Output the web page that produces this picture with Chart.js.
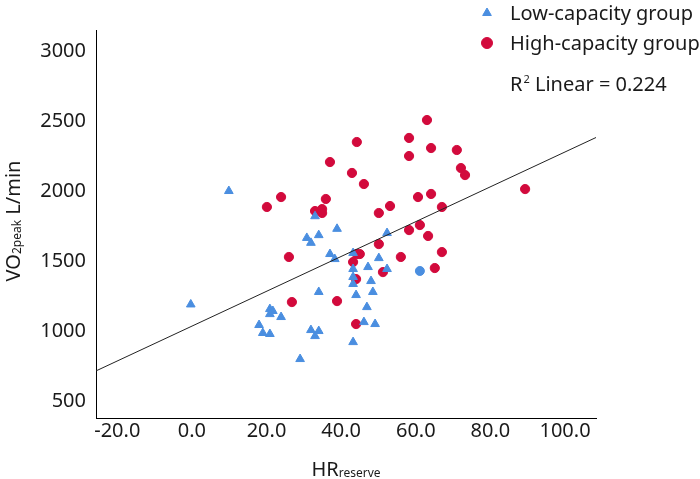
<!DOCTYPE html>
<html><head><meta charset="utf-8">
<script src="https://cdn.jsdelivr.net/npm/chart.js@4/dist/chart.umd.min.js"></script>
<style>html,body{margin:0;padding:0;background:#fff}</style>
</head><body>
<canvas id="c" width="700" height="479"></canvas>
<script>
// Low-capacity group (blue triangles)
const lowX = [-0.3, 9.9, 33.0, 38.9, 34.0, 30.8, 31.9, 37.0, 52.3, 38.3, 43.2, 50.1, 47.2, 43.2, 52.3, 43.2, 48.0, 43.2, 48.5, 44.0, 34.0, 46.9, 20.9, 21.7, 20.9, 23.9, 18.0, 19.0, 20.9, 31.9, 34.0, 33.0, 46.1, 49.1, 43.2, 29.0];
const lowY = [1190, 2000, 1820, 1730, 1685, 1665, 1630, 1550, 1700, 1514, 1557, 1521, 1457, 1443, 1443, 1386, 1357, 1336, 1279, 1257, 1279, 1171, 1157, 1143, 1121, 1100, 1043, 986, 979, 1007, 1000, 964, 1064, 1050, 921, 800];
// Low-capacity point drawn as round marker
const lowRoundX = [61.1];
const lowRoundY = [1429];
// High-capacity group (red circles)
const highX = [20.1, 23.9, 35.9, 33.0, 34.9, 34.9, 26.0, 26.8, 38.9, 44.0, 37.0, 44.2, 58.2, 63.0, 64.1, 71.0, 58.2, 42.9, 72.1, 73.2, 46.1, 60.6, 64.1, 67.0, 53.1, 50.1, 89.3, 58.2, 61.1, 63.3, 67.0, 50.1, 44.2, 45.0, 43.2, 56.0, 51.2, 65.1, 44.0];
const highY = [1886, 1957, 1943, 1857, 1871, 1843, 1529, 1207, 1214, 1050, 2207, 2350, 2379, 2507, 2307, 2293, 2250, 2129, 2164, 2114, 2050, 1957, 1979, 1886, 1893, 1843, 2014, 1721, 1757, 1679, 1564, 1621, 1550, 1550, 1493, 1529, 1421, 1450, 1371];
// Fit line
const fitIntercept = 1035;
const fitSlope = 12.44;
const rSquared = "0.224";
// Axes
const xTicks = [-20, 0, 20, 40, 60, 80, 100];
const yTicks = [500, 1000, 1500, 2000, 2500, 3000];
const xMin = -25.7, xMax = 108.3;
const yMin = 379, yMax = 3150;
const seriesNames = ["Low-capacity group", "High-capacity group"];

const BLUE = '#4a8ee0', RED = '#d20a3c', TXT = '#1a1a1a';
const FONT = '"Noto Sans", "Open Sans", sans-serif';

const zip = (xs, ys) => xs.map((x, i) => ({x, y: ys[i]}));

const textPlugin = {
  id: 'texts',
  afterDraw(chart) {
    const ctx = chart.ctx, ca = chart.chartArea;
    ctx.save();
    ctx.fillStyle = TXT;
    ctx.textBaseline = 'alphabetic';
    const big = '20px ' + FONT, small = '12px ' + FONT;
    // X title: HR + subscript reserve
    ctx.font = big; const w1 = ctx.measureText('HR').width;
    ctx.font = small; const w2 = ctx.measureText('reserve').width;
    let x0 = (ca.left + ca.right) / 2 - (w1 + w2) / 2;
    ctx.font = big; ctx.fillText('HR', x0, 476);
    ctx.font = small; ctx.fillText('reserve', x0 + w1, 477);
    // Y title: VO + subscript 2peak + L/min
    ctx.font = big; const a = ctx.measureText('VO').width;
    ctx.font = small; const b = ctx.measureText('2peak').width;
    ctx.font = big; const c = ctx.measureText(' L/min').width;
    const tot = a + b + c;
    ctx.translate(20, 221);
    ctx.rotate(-Math.PI / 2);
    let s = -tot / 2;
    ctx.font = big; ctx.fillText('VO', s, 0);
    ctx.font = small; ctx.fillText('2peak', s + a, 1);
    ctx.font = big; ctx.fillText(' L/min', s + a + b, 0);
    ctx.restore();

    // Legend
    ctx.save();
    ctx.font = big; ctx.fillStyle = TXT; ctx.textBaseline = 'alphabetic';
    ctx.fillText(seriesNames[0], 510, 20);
    ctx.fillText(seriesNames[1], 510, 50);
    ctx.fillStyle = BLUE; ctx.strokeStyle = BLUE; ctx.lineWidth = 1;
    Chart.helpers.drawPoint(ctx, {pointStyle: 'triangle', radius: 5, rotation: 0, borderWidth: 1}, 487, 13);
    ctx.fillStyle = RED; ctx.strokeStyle = RED;
    Chart.helpers.drawPoint(ctx, {pointStyle: 'circle', radius: 5.5, rotation: 0, borderWidth: 1}, 487, 43);
    // R² text
    ctx.fillStyle = TXT;
    ctx.font = big; const rw = ctx.measureText('R').width;
    ctx.fillText('R', 510, 91);
    ctx.font = '11px ' + FONT; const sw = ctx.measureText('2').width;
    ctx.fillText('2', 510 + rw + 1, 83);
    ctx.font = big; ctx.fillText(' Linear = ' + rSquared, 510 + rw + 1 + sw, 91);
    ctx.restore();
  }
};

new Chart(document.getElementById('c'), {
  type: 'scatter',
  data: {
    datasets: [
      {label: 'fit', type: 'line', order: 0,
       data: [{x: xMin, y: fitIntercept + fitSlope * xMin}, {x: xMax, y: fitIntercept + fitSlope * xMax}],
       borderColor: '#222', borderWidth: 1, pointRadius: 0, fill: false},
      {label: seriesNames[0], order: 1, data: zip(lowX, lowY), pointStyle: 'triangle', pointRadius: 5,
       backgroundColor: BLUE, borderColor: BLUE, borderWidth: 1},
      {label: seriesNames[0] + ' (round)', order: 1, data: zip(lowRoundX, lowRoundY), pointStyle: 'circle', pointRadius: 4.5,
       backgroundColor: BLUE, borderColor: BLUE, borderWidth: 1},
      {label: seriesNames[1], order: 1, data: zip(highX, highY), pointStyle: 'circle', pointRadius: 4.6,
       backgroundColor: RED, borderColor: RED, borderWidth: 1}
    ]
  },
  options: {
    responsive: false, animation: false,
    layout: {padding: {left: 0, right: 104, top: 30, bottom: 0}},
    plugins: {legend: {display: false}, tooltip: {enabled: false}},
    scales: {
      x: {type: 'linear', min: xMin, max: xMax,
          grid: {display: false, drawTicks: false},
          border: {display: true, color: '#000', width: 1},
          afterBuildTicks: s => { s.ticks = xTicks.map(v => ({value: v})); },
          afterFit: s => { s.height = 61; },
          ticks: {color: TXT, font: {family: FONT, size: 20}, padding: 1, maxRotation: 0,
                  callback: v => Number(v).toFixed(1)}},
      y: {type: 'linear', min: yMin, max: yMax,
          grid: {display: false, drawTicks: false},
          border: {display: true, color: '#000', width: 1},
          afterBuildTicks: s => { s.ticks = yTicks.map(v => ({value: v})); },
          afterFit: s => { s.width = 96; },
          ticks: {color: TXT, font: {family: FONT, size: 20}, padding: 10,
                  callback: v => String(v)}}
    }
  },
  plugins: [textPlugin]
});
</script>
</body></html>
